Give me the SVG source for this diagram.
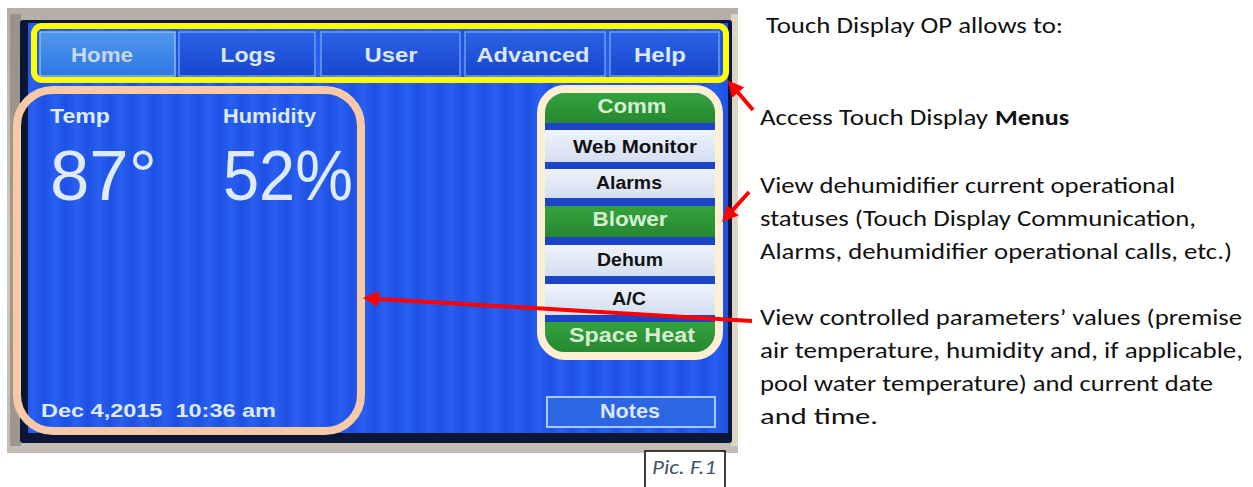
<svg xmlns="http://www.w3.org/2000/svg" width="1253" height="487" viewBox="0 0 1253 487">
<style>
.scr{font-family:"Liberation Sans",Arial,sans-serif;font-weight:bold}
.menu{fill:#dbe7fa;font-size:21px}
.home{fill:#c9d8ee}
.dark{fill:#111111;font-size:19px}
.green{fill:#d6efd4;font-size:21px}
.read{fill:#dfeafc}
.desc{font-family:Carlito,Lato,"Open Sans",sans-serif;font-size:22px;fill:#111111}
.btn{fill:url(#btnG);stroke:#6f9cf0;stroke-width:1.5}
.row-l{fill:url(#lightG)}
.row-g{fill:url(#greenG)}
.arrow{stroke:#ff0000;stroke-width:4;fill:none;marker-end:url(#ah)}
</style>
<defs>
<linearGradient id="stripeG" x1="0" y1="0" x2="1" y2="0">
<stop offset="0" stop-color="#1d51e4"/>
<stop offset="0.5" stop-color="#2960f0"/>
<stop offset="1" stop-color="#1d51e4"/>
</linearGradient>
<pattern id="stripes" width="22" height="20" patternUnits="userSpaceOnUse">
<rect width="22" height="20" fill="url(#stripeG)"/>
</pattern>
<linearGradient id="bezelG" x1="0" y1="0" x2="0" y2="1">
<stop offset="0" stop-color="#b4aea7"/>
<stop offset="0.5" stop-color="#cfc9c1"/>
<stop offset="1" stop-color="#c3bdb5"/>
</linearGradient>
<linearGradient id="btnG" x1="0" y1="0" x2="0" y2="1">
<stop offset="0" stop-color="#2b62e6"/>
<stop offset="1" stop-color="#1847cf"/>
</linearGradient>
<linearGradient id="homeG" x1="0" y1="0" x2="0" y2="1">
<stop offset="0" stop-color="#4f98ec"/>
<stop offset="1" stop-color="#2f77e2"/>
</linearGradient>
<linearGradient id="lightG" x1="0" y1="0" x2="0" y2="1">
<stop offset="0" stop-color="#eef3fb"/>
<stop offset="1" stop-color="#d3def0"/>
</linearGradient>
<linearGradient id="greenG" x1="0" y1="0" x2="0" y2="1">
<stop offset="0" stop-color="#35a23e"/>
<stop offset="1" stop-color="#26882f"/>
</linearGradient>
<clipPath id="panelClip">
<rect x="545" y="93" width="170" height="259" rx="20"/>
</clipPath>
<marker id="ah" viewBox="0 0 10 10" refX="3" refY="5" markerWidth="16" markerHeight="16" markerUnits="userSpaceOnUse" orient="auto">
<path d="M0,0 L10,5 L0,10 z" fill="#ff0000"/>
</marker>
</defs>

<g id="photo">
<rect x="7" y="8" width="731" height="445" fill="url(#bezelG)"/>
<rect x="10" y="14" width="11" height="432" fill="#8c8680" opacity="0.7"/>
<rect x="731" y="14" width="7" height="432" fill="#ddd4c4"/>
<rect x="20" y="20" width="712" height="423" rx="3" fill="#0b1636"/>
<rect x="28" y="23" width="700" height="410" fill="url(#stripes)"/>
</g>

<g id="menu-bar">
<rect x="40" y="32" width="135" height="44" fill="url(#homeG)" stroke="#8cbaf2" stroke-width="1.5"/>
<rect class="btn" x="179" y="32" width="136" height="44"/>
<rect class="btn" x="321" y="32" width="139" height="44"/>
<rect class="btn" x="465" y="32" width="140" height="44"/>
<rect class="btn" x="610" y="32" width="109" height="44"/>
<text class="scr menu home" x="102" y="62" text-anchor="middle" textLength="62" lengthAdjust="spacingAndGlyphs">Home</text>
<text class="scr menu" x="248" y="62" text-anchor="middle" textLength="55" lengthAdjust="spacingAndGlyphs">Logs</text>
<text class="scr menu" x="391" y="62" text-anchor="middle" textLength="53" lengthAdjust="spacingAndGlyphs">User</text>
<text class="scr menu" x="533" y="62" text-anchor="middle" textLength="113" lengthAdjust="spacingAndGlyphs">Advanced</text>
<text class="scr menu" x="660" y="62" text-anchor="middle" textLength="52" lengthAdjust="spacingAndGlyphs">Help</text>
<rect x="34" y="26" width="692" height="54" rx="8" fill="none" stroke="#ffff00" stroke-width="6"/>
</g>

<g id="status-panel">
<rect x="541" y="89" width="178" height="267" rx="24" fill="#1a45c8"/>
<g clip-path="url(#panelClip)">
<rect class="row-g" x="545" y="93" width="170" height="30"/>
<rect class="row-l" x="545" y="130" width="170" height="32"/>
<rect class="row-l" x="545" y="169" width="170" height="29"/>
<rect class="row-g" x="545" y="206" width="170" height="31"/>
<rect class="row-l" x="545" y="245" width="170" height="31"/>
<rect class="row-l" x="545" y="284" width="170" height="31"/>
<rect class="row-g" x="545" y="322" width="170" height="30"/>
</g>
<text class="scr green" x="632" y="113" text-anchor="middle" textLength="69" lengthAdjust="spacingAndGlyphs">Comm</text>
<text class="scr dark" x="635" y="153" text-anchor="middle" textLength="124" lengthAdjust="spacingAndGlyphs">Web Monitor</text>
<text class="scr dark" x="629" y="189" text-anchor="middle" textLength="66" lengthAdjust="spacingAndGlyphs">Alarms</text>
<text class="scr green" x="630" y="226" text-anchor="middle" textLength="75" lengthAdjust="spacingAndGlyphs">Blower</text>
<text class="scr dark" x="630" y="266" text-anchor="middle" textLength="66" lengthAdjust="spacingAndGlyphs">Dehum</text>
<text class="scr dark" x="629" y="305" text-anchor="middle" textLength="34" lengthAdjust="spacingAndGlyphs">A/C</text>
<text class="scr green" x="632" y="342" text-anchor="middle" textLength="126" lengthAdjust="spacingAndGlyphs">Space Heat</text>
<rect x="541" y="89" width="178" height="267" rx="24" fill="none" stroke="#fdefd2" stroke-width="8"/>
</g>

<g id="readings">
<text class="scr read" x="50" y="123" font-size="20" textLength="60" lengthAdjust="spacingAndGlyphs">Temp</text>
<text class="scr read" x="223" y="123" font-size="20" textLength="93" lengthAdjust="spacingAndGlyphs">Humidity</text>
<text class="read" x="50" y="200" font-family="'Liberation Sans',Arial,sans-serif" font-size="70" textLength="107" lengthAdjust="spacingAndGlyphs">87°</text>
<text class="read" x="223" y="200" font-family="'Liberation Sans',Arial,sans-serif" font-size="70" textLength="130" lengthAdjust="spacingAndGlyphs">52%</text>
<text class="scr read" x="41" y="417" font-size="19" textLength="235" lengthAdjust="spacingAndGlyphs">Dec 4,2015&#160;&#160;10:36 am</text>
<rect x="17" y="90" width="344" height="341" rx="36" fill="none" stroke="#f7c9a6" stroke-width="8"/>
</g>

<g id="notes-button">
<rect x="547" y="397" width="168" height="30" fill="#2c66e2" stroke="#a9c8f2" stroke-width="2"/>
<text class="scr menu" x="630" y="418" font-size="19" text-anchor="middle" textLength="60" lengthAdjust="spacingAndGlyphs">Notes</text>
</g>

<g id="caption">
<rect x="645" y="451" width="80" height="40" fill="#ffffff" stroke="#000000" stroke-width="1.5"/>
<text x="652" y="474" font-family="Carlito,Lato,'Open Sans',sans-serif" font-style="italic" font-size="21" fill="#44546a" textLength="64" lengthAdjust="spacingAndGlyphs">Pic. F.1</text>
</g>

<g id="desc-title">
<text class="desc" x="766" y="33" textLength="297" lengthAdjust="spacingAndGlyphs">Touch Display OP allows to:</text>
</g>
<g id="desc-menus">
<text class="desc" x="760" y="125" textLength="228" lengthAdjust="spacingAndGlyphs">Access Touch Display</text>
<text class="desc" x="995" y="125" font-weight="bold" textLength="74" lengthAdjust="spacingAndGlyphs">Menus</text>
</g>
<g id="desc-status">
<text class="desc" x="760" y="193" textLength="415" lengthAdjust="spacingAndGlyphs">View dehumidifier current operational</text>
<text class="desc" x="760" y="226" textLength="436" lengthAdjust="spacingAndGlyphs">statuses (Touch Display Communication,</text>
<text class="desc" x="760" y="259" textLength="472" lengthAdjust="spacingAndGlyphs">Alarms, dehumidifier operational calls, etc.)</text>
</g>
<g id="desc-params">
<text class="desc" x="760" y="325" textLength="482" lengthAdjust="spacingAndGlyphs">View controlled parameters’ values (premise</text>
<text class="desc" x="760" y="358" textLength="483" lengthAdjust="spacingAndGlyphs">air temperature, humidity and, if applicable,</text>
<text class="desc" x="760" y="391" textLength="453" lengthAdjust="spacingAndGlyphs">pool water temperature) and current date</text>
<text class="desc" x="760" y="424" textLength="118" lengthAdjust="spacingAndGlyphs">and time.</text>
</g>

<g id="connectors">
<line class="arrow" x1="753" y1="110" x2="735" y2="89"/>
<line class="arrow" x1="749" y1="192" x2="729.5" y2="213.7"/>
<line class="arrow" x1="752" y1="321" x2="374" y2="298.7"/>
</g>
</svg>
